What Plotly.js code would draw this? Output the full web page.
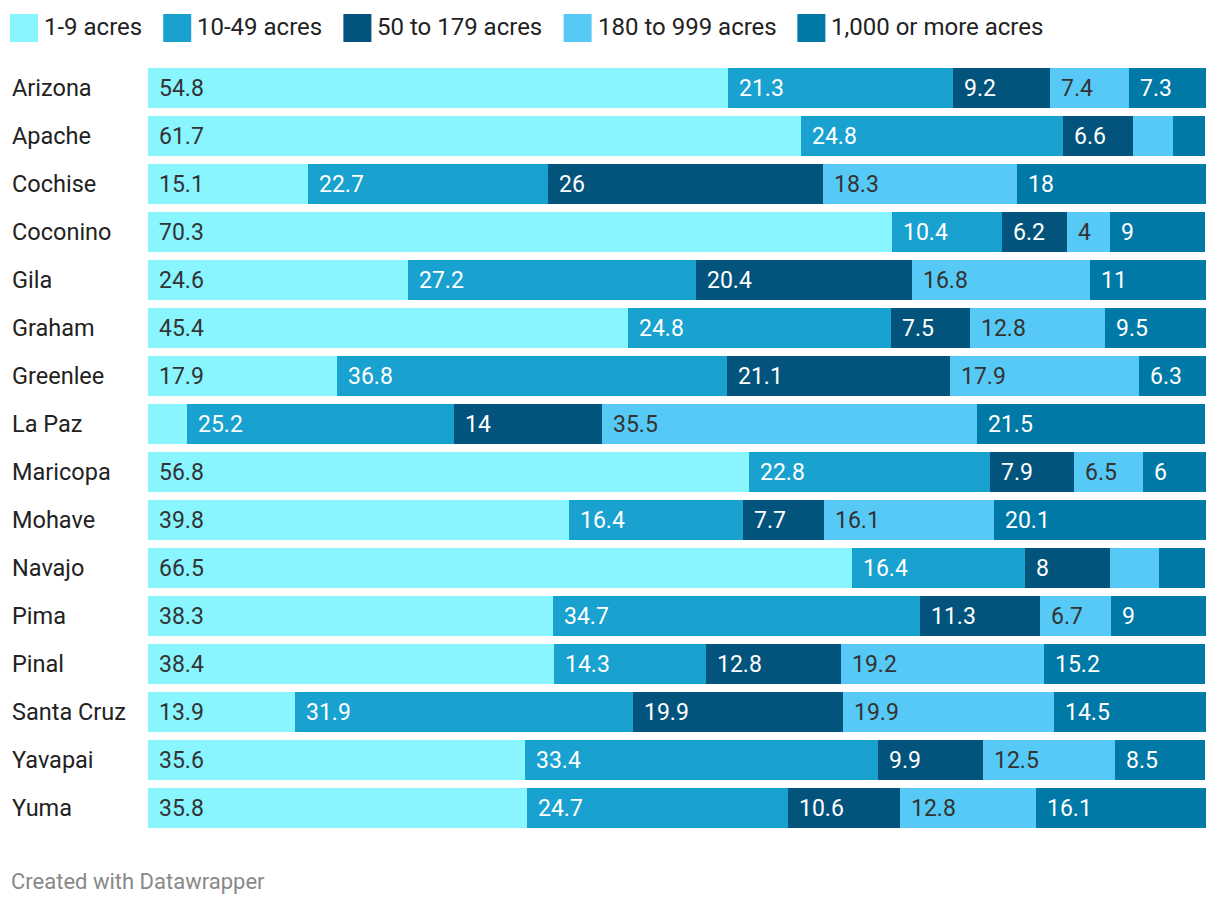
<!DOCTYPE html>
<html><head><meta charset="utf-8">
<script src="https://cdn.plot.ly/plotly-3.0.1.min.js"></script>
<style>body{margin:0;background:#fff}#chart{width:1220px;height:906px}</style>
</head><body><div id="chart"></div>
<script>
const counties = ["Arizona","Apache","Cochise","Coconino","Gila","Graham","Greenlee","La Paz","Maricopa","Mohave","Navajo","Pima","Pinal","Santa Cruz","Yavapai","Yuma"];
const seriesNames = ["1-9 acres","10-49 acres","50 to 179 acres","180 to 999 acres","1,000 or more acres"];
const acres1to9 = [54.8,61.7,15.1,70.3,24.6,45.4,17.9,3.7,56.8,39.8,66.5,38.3,38.4,13.9,35.6,35.8];
const acres10to49 = [21.3,24.8,22.7,10.4,27.2,24.8,36.8,25.2,22.8,16.4,16.4,34.7,14.3,31.9,33.4,24.7];
const acres50to179 = [9.2,6.6,26,6.2,20.4,7.5,21.1,14,7.9,7.7,8,11.3,12.8,19.9,9.9,10.6];
const acres180to999 = [7.4,3.8,18.3,4,16.8,12.8,17.9,35.5,6.5,16.1,4.7,6.7,19.2,19.9,12.5,12.8];
const acres1000plus = [7.3,3.0,18,9,11,9.5,6.3,21.5,6,20.1,4.3,9,15.2,14.5,8.5,16.1];

const seriesValues = [acres1to9, acres10to49, acres50to179, acres180to999, acres1000plus];
const colors = ["#88f5ff","#19a2cf","#02547c","#57c9f6","#0079a6"];
const textColors = ["#333333","#ffffff","#ffffff","#333333","#ffffff"];

const W = 1220, H = 906;
const M = {l:148, r:14, t:64, b:74};
const plotW = W - M.l - M.r, plotH = H - M.t - M.b;
const XMAX = 100;
const px2x = px => (px - M.l) / plotW;
const py2y = py => (H - M.b - py) / plotH;

const canvas = document.createElement('canvas');
const ctx = canvas.getContext('2d');
function textWidth(s, size){ ctx.font = size + 'px Roboto'; return ctx.measureText(s).width; }

const FONT = 'Roboto, sans-serif';
const VALUE_SIZE = 23;
const CAT_SIZE = 23.5;
const LEGEND_SIZE = 24;

const traces = seriesValues.map((vals, i) => ({
  type: 'bar', orientation: 'h', name: seriesNames[i],
  y: counties, x: vals,
  marker: {color: colors[i], line: {width: 0}},
  hoverinfo: 'skip', showlegend: false
}));

const annotations = [];
const shapes = [];

// value labels
counties.forEach((c, r) => {
  let cum = 0;
  seriesValues.forEach((vals, i) => {
    const v = vals[r];
    const txt = String(v);
    const segPx = v * plotW / XMAX;
    if (segPx >= textWidth(txt, VALUE_SIZE) + 22) {
      annotations.push({
        xref: 'x', yref: 'y', x: cum, y: c, xanchor: 'left', yanchor: 'middle',
        xshift: 11, text: txt, showarrow: false, borderpad: 0, borderwidth: 0,
        font: {family: FONT, size: VALUE_SIZE, color: textColors[i]}
      });
    }
    cum += v;
  });
  // category labels
  annotations.push({
    xref: 'paper', yref: 'y', x: px2x(12), y: c, xanchor: 'left', yanchor: 'middle',
    text: c, showarrow: false, borderpad: 0, borderwidth: 0,
    font: {family: FONT, size: CAT_SIZE, color: '#222222'}
  });
});

// legend
let lx = 10;
seriesNames.forEach((n, i) => {
  shapes.push({type: 'rect', xref: 'paper', yref: 'paper',
    x0: px2x(lx), x1: px2x(lx + 28), y0: py2y(42), y1: py2y(14),
    fillcolor: colors[i], line: {width: 0}, layer: 'above'});
  const tx = lx + 34;
  annotations.push({xref: 'paper', yref: 'paper', x: px2x(tx), y: py2y(27),
    xanchor: 'left', yanchor: 'middle', text: n, showarrow: false,
    borderpad: 0, borderwidth: 0,
    font: {family: FONT, size: LEGEND_SIZE, color: '#222222'}});
  lx = tx + textWidth(n, LEGEND_SIZE) + 21;
});

// footer
annotations.push({xref: 'paper', yref: 'paper', x: px2x(11), y: py2y(881),
  xanchor: 'left', yanchor: 'middle', text: 'Created with Datawrapper', showarrow: false,
  borderpad: 0, borderwidth: 0,
  font: {family: FONT, size: 22, color: '#888888'}});

const layout = {
  width: W, height: H,
  margin: M,
  paper_bgcolor: '#ffffff', plot_bgcolor: '#ffffff',
  barmode: 'stack', bargap: 0.167,
  showlegend: false,
  xaxis: {range: [0, XMAX], visible: false, fixedrange: true},
  yaxis: {type: 'category', range: [counties.length - 0.5, -0.5], showticklabels: false,
          showgrid: false, zeroline: false, showline: false, ticks: '', fixedrange: true},
  font: {family: FONT},
  annotations: annotations,
  shapes: shapes
};

Plotly.newPlot('chart', traces, layout, {displayModeBar: false, staticPlot: true});
</script>
</body></html>
